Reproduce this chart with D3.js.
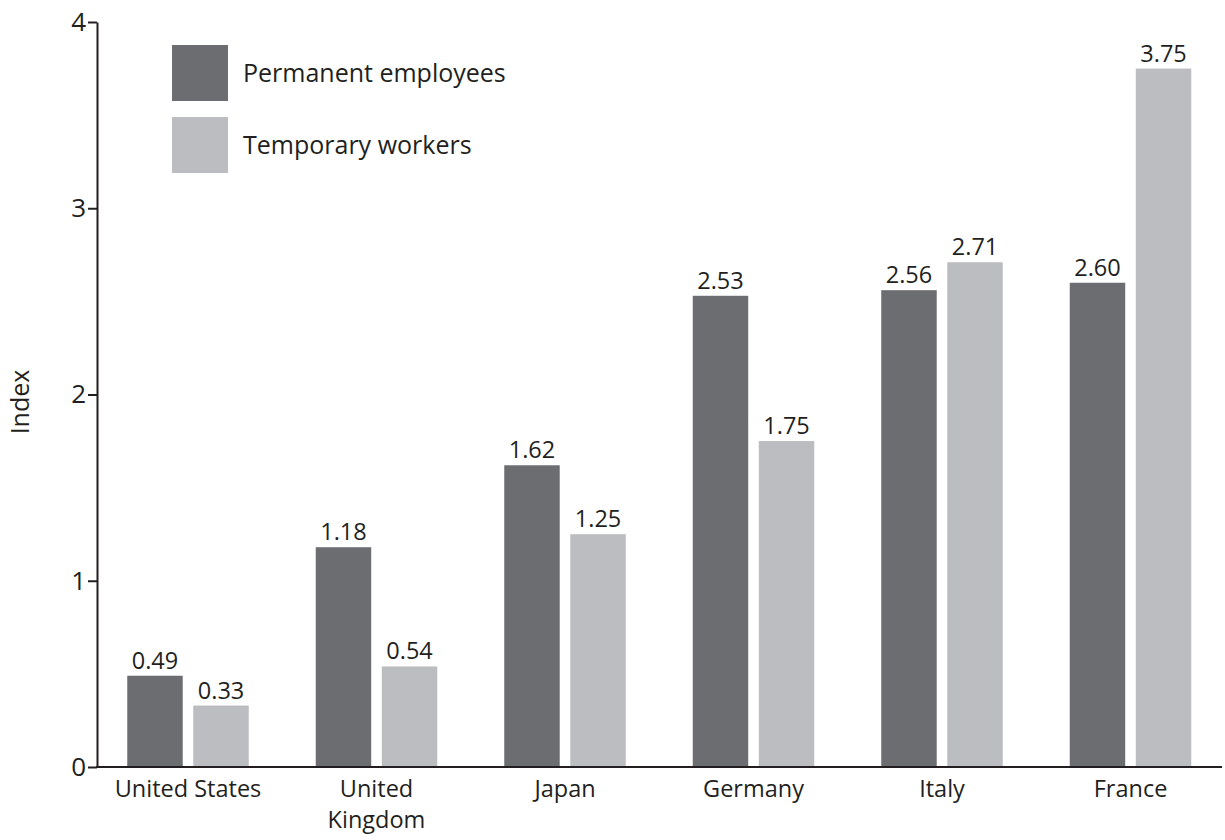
<!DOCTYPE html>
<html>
<head>
<meta charset="utf-8">
<script src="https://cdn.jsdelivr.net/npm/d3@7"></script>
<style>
  html, body { margin: 0; padding: 0; background: #fff; }
  svg { display: block; font-family: "Open Sans", "Noto Sans", sans-serif; }
</style>
</head>
<body>
<svg id="chart" width="1225" height="840"></svg>
<script>
const categories = ["United States", "United Kingdom", "Japan", "Germany", "Italy", "France"];
const categoryLines = [["United States"], ["United", "Kingdom"], ["Japan"], ["Germany"], ["Italy"], ["France"]];
const seriesNames = ["Permanent employees", "Temporary workers"];
const permanent = [0.49, 1.18, 1.62, 2.53, 2.56, 2.60];
const temporary = [0.33, 0.54, 1.25, 1.75, 2.71, 3.75];
const permanentLabels = ["0.49", "1.18", "1.62", "2.53", "2.56", "2.60"];
const temporaryLabels = ["0.33", "0.54", "1.25", "1.75", "2.71", "3.75"];
const yTicks = [0, 1, 2, 3, 4];
const colors = ["#6b6d70", "#bcbdc1"];

const svg = d3.select("#chart");
const axisX = 97, axisRight = 1222, y0px = 767, y4px = 22;

const y = d3.scaleLinear().domain([0, 4]).range([y0px, y4px]);
const x0 = d3.scaleBand().domain(categories).range([93.75, 1224.75]);
const x1 = d3.scaleBand().domain([0, 1]).range([0, 121.5]).paddingInner(0.16);

const data = categories.map((c, i) => ({
  cat: c,
  lines: categoryLines[i],
  vals: [
    { s: 0, v: permanent[i], label: permanentLabels[i] },
    { s: 1, v: temporary[i], label: temporaryLabels[i] }
  ]
}));

const groups = svg.append("g").selectAll("g").data(data).join("g")
  .attr("transform", d => `translate(${x0(d.cat) + x0.bandwidth() / 2 - 60.75},0)`);

groups.selectAll("rect").data(d => d.vals).join("rect")
  .attr("x", d => x1(d.s))
  .attr("width", x1.bandwidth())
  .attr("y", d => y(d.v))
  .attr("height", d => y(0) - y(d.v))
  .attr("fill", d => colors[d.s]);

groups.selectAll("text.val").data(d => d.vals).join("text")
  .attr("class", "val")
  .attr("x", d => x1(d.s) + x1.bandwidth() / 2)
  .attr("y", d => y(d.v) - 7)
  .attr("text-anchor", "middle")
  .attr("font-size", 23.5)
  .attr("fill", "#231f20")
  .text(d => d.label);

// Y axis
const yAxis = d3.axisLeft(y).tickValues(yTicks).tickFormat(d3.format("d")).tickSize(9).tickSizeOuter(0);
const yg = svg.append("g").attr("transform", `translate(${axisX},0)`).call(yAxis);
yg.select(".domain").attr("stroke", "#231f20").attr("stroke-width", 2);
yg.selectAll(".tick line").attr("stroke", "#231f20").attr("stroke-width", 2);
yg.selectAll(".tick text").attr("font-size", 26).attr("fill", "#231f20").attr("x", -11)
  .attr("font-family", "\"Open Sans\", sans-serif");

// X axis line
svg.append("line")
  .attr("x1", axisX - 1).attr("x2", axisRight)
  .attr("y1", y(0)).attr("y2", y(0))
  .attr("stroke", "#231f20").attr("stroke-width", 2);

// Category labels
const catText = svg.append("g").selectAll("text").data(data).join("text")
  .attr("x", d => x0(d.cat) + x0.bandwidth() / 2)
  .attr("y", 797)
  .attr("text-anchor", "middle")
  .attr("font-size", 23.5)
  .attr("fill", "#231f20");
catText.selectAll("tspan").data(d => d.lines.map(l => ({ l, x: x0(d.cat) + x0.bandwidth() / 2 }))).join("tspan")
  .attr("x", d => d.x)
  .attr("dy", (d, i) => i === 0 ? 0 : 31)
  .text(d => d.l);

// Y axis title
svg.append("text")
  .attr("transform", "translate(29,402) rotate(-90)")
  .attr("text-anchor", "middle")
  .attr("font-size", 25)
  .attr("fill", "#231f20")
  .text("Index");

// Legend
const legend = svg.append("g").selectAll("g").data(seriesNames).join("g")
  .attr("transform", (d, i) => `translate(172,${45 + i * 72})`);
legend.append("rect").attr("width", 56).attr("height", 56).attr("fill", (d, i) => colors[i]);
legend.append("text")
  .attr("x", 71).attr("y", 28).attr("dy", "0.35em")
  .attr("font-size", 25)
  .attr("fill", "#231f20")
  .text(d => d);
</script>
</body>
</html>
